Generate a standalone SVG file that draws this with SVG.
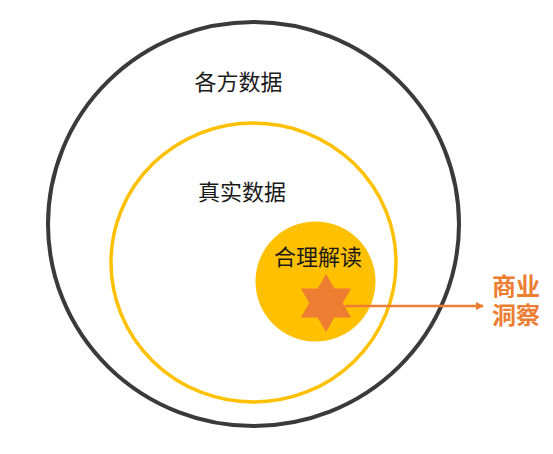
<svg xmlns="http://www.w3.org/2000/svg" width="553" height="454" viewBox="0 0 553 454">
<defs>
<style>
.lbl{font-family:"Liberation Sans","Noto Sans CJK SC",sans-serif;font-size:22px;fill:#1a1a1a;text-anchor:middle}
.out{font-family:"Liberation Sans","Noto Sans CJK SC",sans-serif;font-size:24px;font-weight:bold;fill:#ED7D31}
</style>
<marker id="ah" markerWidth="8" markerHeight="8" refX="7" refY="4" orient="auto" markerUnits="userSpaceOnUse">
<path d="M0,0 L8,4 L0,8 Z" fill="#ED7D31"/>
</marker>
</defs>
<rect width="553" height="454" fill="#ffffff"/>
<g id="outer">
<ellipse cx="253.5" cy="224" rx="205.5" ry="202" fill="none" stroke="#3a3a3a" stroke-width="4"/>
<text class="lbl" x="238.5" y="90">各方数据</text>
</g>
<g id="middle">
<ellipse cx="253.5" cy="262.5" rx="142.5" ry="139.5" fill="none" stroke="#FFC000" stroke-width="3.5"/>
<text class="lbl" x="242" y="200">真实数据</text>
</g>
<g id="inner">
<circle cx="315.5" cy="281.5" r="60" fill="#FFC000"/>
<text class="lbl" x="318" y="265">合理解读</text>
</g>
<g id="star">
<polygon points="326,274 351.1,317.5 300.9,317.5" fill="#ED7D31"/>
<polygon points="326,332 300.9,288.5 351.1,288.5" fill="#ED7D31"/>
</g>
<g id="connectors">
<line x1="345" y1="306" x2="483" y2="306" stroke="#ED7D31" stroke-width="2.5" marker-end="url(#ah)"/>
</g>
<g id="insight">
<text class="out" x="492" y="295">商业</text>
<text class="out" x="492" y="324">洞察</text>
</g>
</svg>
